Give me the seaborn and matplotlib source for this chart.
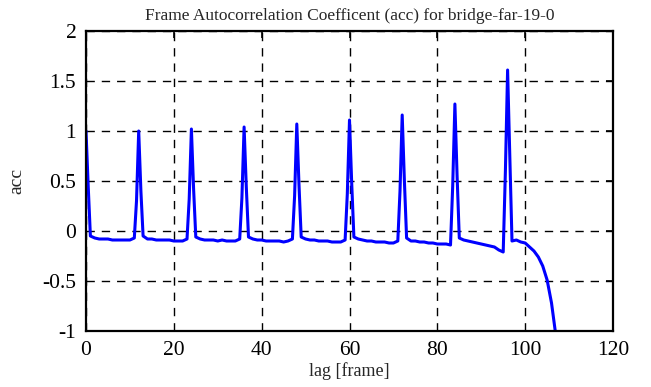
import numpy as np
import pandas as pd
import matplotlib
matplotlib.use("Agg")
import matplotlib.pyplot as plt
import seaborn as sns

# integer lags 0..107
lag_int = list(range(0, 108))
acc_int = [
    1.00, -0.05, -0.07, -0.08, -0.08, -0.08, -0.09, -0.09, -0.09, -0.09,   # 0-9
    -0.09, -0.07, 1.00, -0.05, -0.08, -0.08, -0.09, -0.09, -0.09, -0.09,   # 10-19
    -0.10, -0.10, -0.10, -0.08, 1.02, -0.06, -0.08, -0.09, -0.09, -0.09,   # 20-29
    -0.10, -0.09, -0.10, -0.10, -0.10, -0.08, 1.04, -0.06, -0.08, -0.09,   # 30-39
    -0.09, -0.10, -0.10, -0.10, -0.10, -0.11, -0.10, -0.08, 1.07, -0.06,   # 40-49
    -0.08, -0.09, -0.09, -0.10, -0.10, -0.10, -0.11, -0.11, -0.11, -0.09,  # 50-59
    1.11, -0.06, -0.08, -0.09, -0.10, -0.10, -0.11, -0.11, -0.11, -0.12,   # 60-69
    -0.12, -0.10, 1.16, -0.07, -0.10, -0.10, -0.11, -0.11, -0.12, -0.12,   # 70-79
    -0.13, -0.13, -0.13, -0.14, 1.27, -0.07, -0.09, -0.10, -0.11, -0.12,   # 80-89
    -0.13, -0.14, -0.15, -0.16, -0.19, -0.21, 1.61, -0.10, -0.09, -0.11,   # 90-99
    -0.12, -0.16, -0.20, -0.26, -0.35, -0.49, -0.72, -1.05,                # 100-107
]

# half-frame samples on the flanks of the peaks
lag_half = [0.5, 11.5, 12.5, 23.5, 24.5, 35.5, 36.5, 47.5, 48.5,
            59.5, 60.5, 71.5, 72.5, 83.5, 84.5, 95.5, 96.5]
acc_half = [0.45, 0.30, 0.40, 0.32, 0.42, 0.33, 0.44, 0.35, 0.46,
            0.37, 0.48, 0.40, 0.50, 0.45, 0.55, 0.60, 0.75]

df = pd.DataFrame({"lag": lag_int + lag_half, "acc": acc_int + acc_half})
df = df.sort_values("lag").reset_index(drop=True)

sns.set_style("white")
plt.rcParams["font.family"] = ["Liberation Serif", "DejaVu Serif"]
plt.rcParams["axes.unicode_minus"] = False

fig = plt.figure(figsize=(6.51, 3.87), dpi=100)
ax = fig.add_axes([86/651, 1-331/387, (613-86)/651, (331-31)/387])

sns.lineplot(data=df, x="lag", y="acc", ax=ax, color="#0000ff",
             linewidth=2.2, sort=False, estimator=None)

ax.set_xlim(0, 120)
ax.set_ylim(-1, 2)
ax.set_xticks([0, 20, 40, 60, 80, 100, 120])
ax.set_yticks([-1, -0.5, 0, 0.5, 1, 1.5, 2])
ax.set_yticklabels(["-1", "-0.5", "0", "0.5", "1", "1.5", "2"])
ax.grid(True, color="black", linestyle=(0, (6, 5)), linewidth=1.0)
ax.tick_params(direction="in", length=5, width=1.2, top=True, right=True,
               labelsize=15.5, colors="black")
ax.tick_params(axis="x", pad=7)
ax.tick_params(axis="y", pad=7)
for s in ax.spines.values():
    s.set_visible(True)
    s.set_color("black")
    s.set_linewidth(1.6)

ax.set_xlabel("lag [frame]", fontsize=13, labelpad=2)
ax.set_ylabel("acc", fontsize=14, labelpad=12)
ax.set_title("Frame Autocorrelation Coefficent (acc) for bridge-far-19-0",
             fontsize=12.5, pad=8)

fig.savefig("out.png", dpi=100)
